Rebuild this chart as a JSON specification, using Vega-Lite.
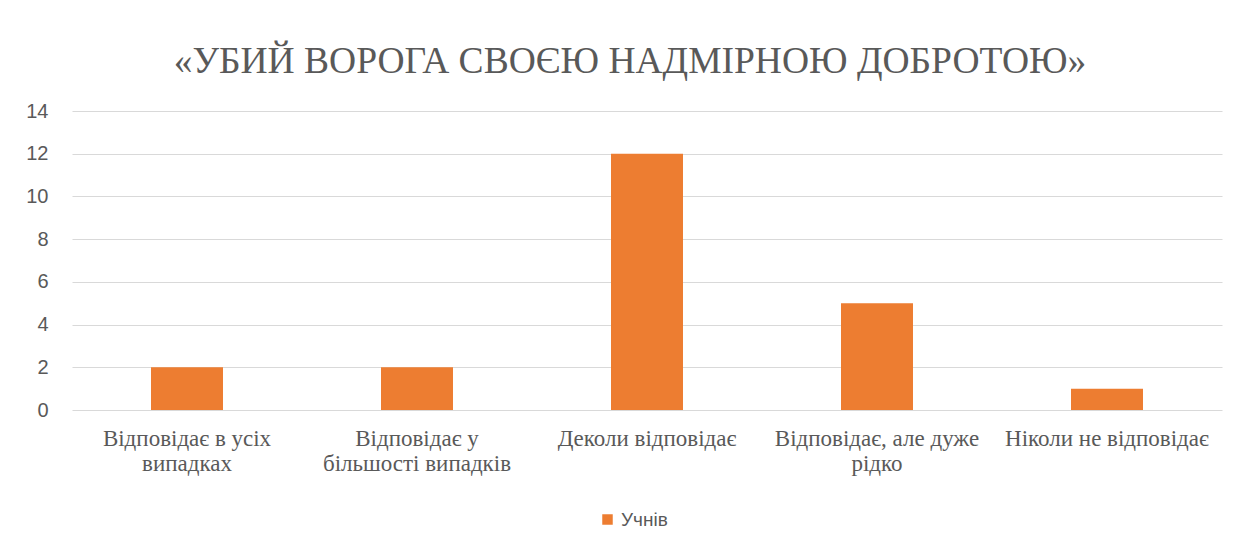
{
  "$schema": "https://vega.github.io/schema/vega-lite/v6.json",
  "width": 1150,
  "height": 299,
  "autosize": {"type": "none"},
  "padding": {"left": 72, "top": 111, "right": 18, "bottom": 142},
  "background": "white",
  "data": {
    "values": [
      {"category": "Відповідає в усіх випадках", "series": "Учнів", "value": 2},
      {"category": "Відповідає у більшості випадків", "series": "Учнів", "value": 2},
      {"category": "Деколи відповідає", "series": "Учнів", "value": 12},
      {"category": "Відповідає, але дуже рідко", "series": "Учнів", "value": 5},
      {"category": "Ніколи не відповідає", "series": "Учнів", "value": 1}
    ]
  },
  "title": {
    "text": "«УБИЙ ВОРОГА СВОЄЮ НАДМІРНОЮ ДОБРОТОЮ»",
    "font": "Liberation Serif",
    "fontSize": 37.5,
    "fontWeight": "normal",
    "color": "#595959",
    "anchor": "middle",
    "offset": 21,
    "dx": -17
  },
  "mark": {"type": "bar", "color": "#ED7D31"},
  "encoding": {
    "x": {
      "field": "category",
      "type": "nominal",
      "sort": null,
      "scale": {"paddingInner": 0.687, "paddingOuter": 0.3435},
      "axis": {
        "title": null,
        "labelAngle": 0,
        "ticks": false,
        "domain": false,
        "labelFont": "Liberation Serif",
        "labelFontSize": 23,
        "labelColor": "#595959",
        "labelPadding": 17,
        "labelLineHeight": 25,
        "labelLimit": 400,
        "labelExpr": "datum.label == 'Відповідає в усіх випадках' ? ['Відповідає в усіх', 'випадках'] : datum.label == 'Відповідає у більшості випадків' ? ['Відповідає у', 'більшості випадків'] : datum.label == 'Відповідає, але дуже рідко' ? ['Відповідає, але дуже', 'рідко'] : datum.label"
      }
    },
    "y": {
      "field": "value",
      "type": "quantitative",
      "scale": {"domain": [0, 14], "nice": false},
      "axis": {
        "title": null,
        "values": [0, 2, 4, 6, 8, 10, 12, 14],
        "ticks": false,
        "domain": false,
        "grid": true,
        "gridColor": "#d9d9d9",
        "gridWidth": 1,
        "labelFont": "Liberation Sans",
        "labelFontSize": 20,
        "labelColor": "#595959",
        "labelPadding": 24
      }
    },
    "fill": {
      "field": "series",
      "type": "nominal",
      "scale": {"range": ["#ED7D31"]},
      "legend": {
        "title": null,
        "orient": "none",
        "legendX": 526,
        "legendY": 399,
        "symbolType": "square",
        "symbolSize": 110,
        "symbolStrokeWidth": 0,
        "labelFont": "Liberation Sans",
        "labelFontSize": 19,
        "labelColor": "#595959",
        "labelOffset": 4
      }
    }
  },
  "config": {"view": {"stroke": null}}
}
